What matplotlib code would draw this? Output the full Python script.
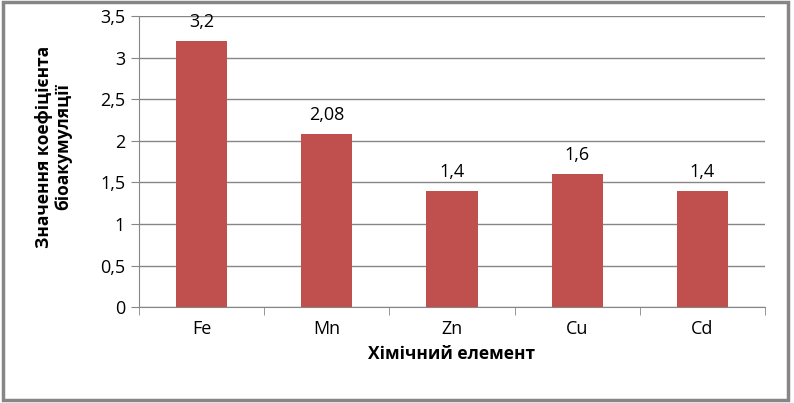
import matplotlib.pyplot as plt
from matplotlib.patches import Rectangle
from matplotlib.ticker import FuncFormatter

elements = ["Fe", "Mn", "Zn", "Cu", "Cd"]
values = [3.2, 2.08, 1.4, 1.6, 1.4]
labels = ["3,2", "2,08", "1,4", "1,6", "1,4"]

plt.rcParams['font.family'] = ['Open Sans', 'DejaVu Sans']

fig = plt.figure(figsize=(7.94, 4.03), dpi=100)
ax = fig.add_axes([0.175, 0.238, 0.7885, 0.722])

x = list(range(len(elements)))
bars = ax.bar(x, values, width=0.41, color="#C0504D", zorder=3)
for xi, v, lab in zip(x, values, labels):
    ax.text(xi, v + 0.12, lab, ha="center", va="bottom", fontsize=13)

ax.set_xlim(-0.5, len(elements) - 0.5)
ax.set_ylim(0, 3.5)
ax.set_yticks([0, 0.5, 1, 1.5, 2, 2.5, 3, 3.5])
ax.yaxis.set_major_formatter(FuncFormatter(lambda v, p: ("%g" % v).replace(".", ",")))
ax.grid(axis="y", color="#868686", linewidth=1, zorder=0)

ax.set_xticks(x)
ax.set_xticklabels(elements, fontsize=13)
ax.set_xticks([i - 0.5 for i in range(len(elements) + 1)], minor=True)
ax.tick_params(axis="x", which="major", length=0, pad=9)
ax.tick_params(axis="x", which="minor", length=6, color="#868686")
ax.tick_params(axis="y", length=6, color="#868686", labelsize=13, pad=4)

for side in ["top", "right"]:
    ax.spines[side].set_visible(False)
ax.spines["left"].set_color("#868686")
ax.spines["bottom"].set_color("#868686")

ax.set_xlabel("Хімічний елемент", fontsize=12.5, fontweight="bold", labelpad=5)
ax.set_ylabel("Значення коефіцієнта\nбіоакумуляції", fontsize=12.5, fontweight="bold",
              linespacing=1.1)
ax.yaxis.set_label_coords(-0.107, 0.55)

# outer frame with shadow
fig.patches.append(Rectangle((0.0035, 0.007), 0.989, 0.988, transform=fig.transFigure,
                             fill=False, edgecolor="#868686", linewidth=2.5))

fig.savefig("out.png", dpi=100)
